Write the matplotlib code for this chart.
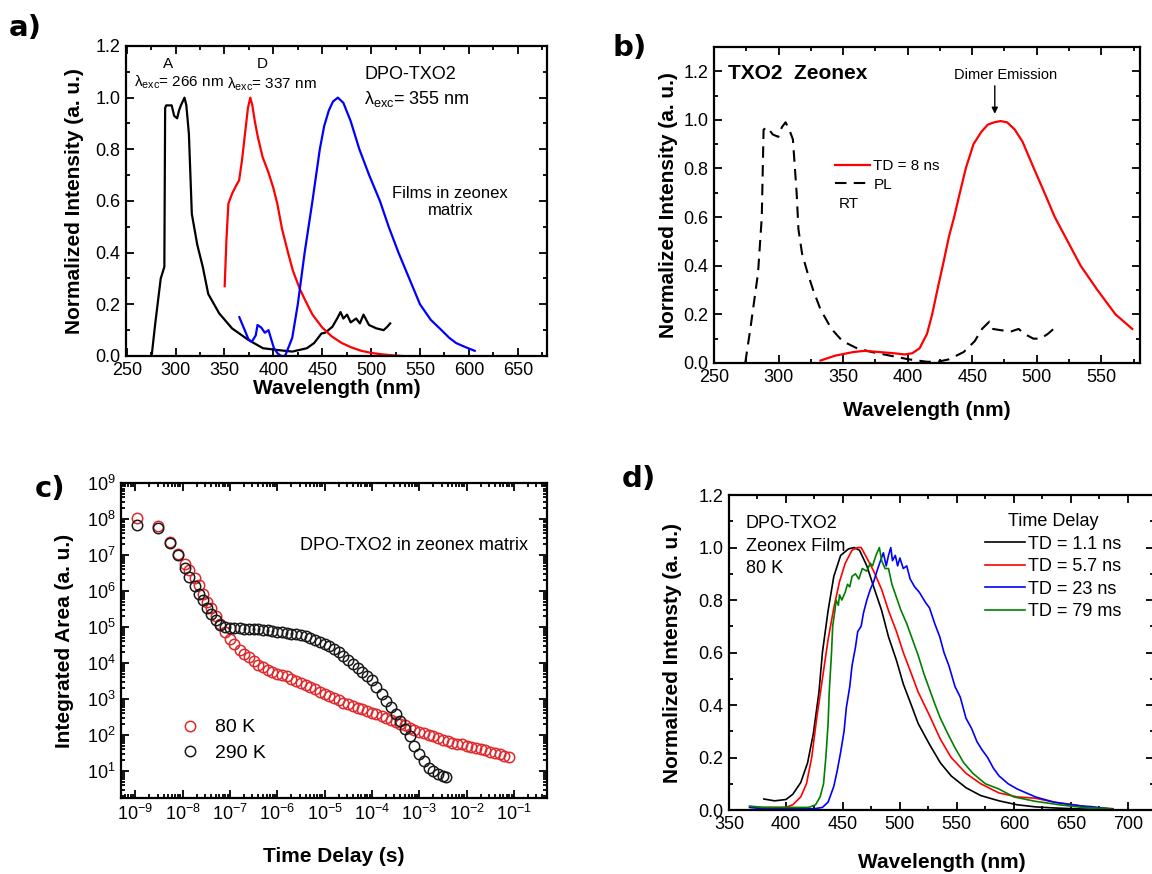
import matplotlib
matplotlib.use("Agg")
import matplotlib.pyplot as plt
from matplotlib.ticker import MultipleLocator, FormatStrFormatter, LogLocator, NullFormatter

plt.rcParams['font.family'] = ['Liberation Sans', 'DejaVu Sans']
plt.rcParams['mathtext.fontset'] = 'custom'
plt.rcParams['mathtext.rm'] = 'Liberation Sans'
plt.rcParams['mathtext.it'] = 'Liberation Sans:italic'
plt.rcParams['mathtext.bf'] = 'Liberation Sans:bold'

# ---- panel a: steady-state spectra ----
a_black_x = [275.5, 279, 284.8, 288.5, 289.3, 290.4, 296, 298.5, 301.6, 303.5, 305.4, 309.1, 311, 313.6,
             316.6, 322.2, 327.8, 333.4, 344.6, 357.7, 374.5, 389.4, 404.4, 419.3, 434.3, 441.7,
             449.2, 453, 460.4, 466, 468.7, 471.6, 475.4, 479.1, 484.7, 488.5, 492.2, 497.8,
             505.3, 512.8, 516.5, 519.5]
a_black_y = [0.0, 0.12, 0.30, 0.345, 0.96, 0.97, 0.97, 0.93, 0.92, 0.95, 0.97, 1.0, 0.97, 0.86,
             0.55, 0.43, 0.345, 0.24, 0.165, 0.107, 0.062, 0.03, 0.023, 0.017, 0.03, 0.05,
             0.087, 0.09, 0.113, 0.15, 0.17, 0.145, 0.16, 0.13, 0.145, 0.126, 0.16, 0.12,
             0.107, 0.10, 0.113, 0.126]
a_red_x = [350.2, 352, 354, 358, 362, 365, 368, 371, 374, 376.4, 378.5, 381, 384, 389, 395, 400,
           404, 409, 415, 420, 427, 432, 440, 450, 460, 470, 480, 490, 500, 510, 520, 532]
a_red_y = [0.27, 0.45, 0.59, 0.63, 0.66, 0.68, 0.76, 0.86, 0.96, 1.0, 0.97, 0.91, 0.85, 0.77, 0.71,
           0.65, 0.59, 0.49, 0.40, 0.33, 0.26, 0.22, 0.16, 0.11, 0.075, 0.05, 0.033, 0.02, 0.012,
           0.007, 0.003, 0.0]
a_blue_x = [365.2, 370.7, 374.5, 378, 382, 383.8, 387.6, 391.3, 395, 397, 400.6, 404.4, 408, 412,
            419.3, 425, 432, 440, 447.5, 452, 456.7, 461, 466, 471.6, 479, 488, 498, 509, 518,
            528, 539, 550, 561, 572, 580, 587, 596, 606]
a_blue_y = [0.15, 0.10, 0.065, 0.055, 0.08, 0.12, 0.11, 0.09, 0.10, 0.075, 0.03, 0.01, 0.0, 0.0,
            0.07, 0.20, 0.40, 0.60, 0.80, 0.89, 0.95, 0.985, 1.0, 0.98, 0.91, 0.80, 0.70, 0.60,
            0.50, 0.40, 0.30, 0.20, 0.14, 0.10, 0.07, 0.05, 0.035, 0.02]

# ---- panel b: TXO2 in zeonex ----
b_pl_x = [274.2, 278.4, 284.1, 287, 288.4, 291.2, 295.5, 299.8, 302.6, 305.4, 308.3, 311.1, 314,
          315.4, 318.2, 322.5, 326.8, 332.5, 341, 349.5, 360.9, 372.3, 386.5, 400.7, 414.9,
          423.4, 432, 443.4, 452, 457.6, 463.3, 466.1, 471.8, 480.3, 486, 490.3, 497.4, 503,
          508.7, 513]
b_pl_y = [0.0, 0.15, 0.37, 0.6, 0.96, 0.97, 0.94, 0.93, 0.97, 0.99, 0.96, 0.92, 0.70, 0.55, 0.45,
          0.37, 0.30, 0.22, 0.14, 0.09, 0.06, 0.045, 0.03, 0.015, 0.005, 0.005, 0.015, 0.045,
          0.09, 0.14, 0.17, 0.14, 0.135, 0.13, 0.14, 0.12, 0.10, 0.10, 0.12, 0.14]
b_td_x = [332.5, 343.8, 358, 366.6, 378, 389.3, 397.9, 403.5, 409.2, 415, 419, 423, 428, 432, 436,
          440, 445, 451, 457, 462, 467, 472, 477, 483, 489, 497, 506, 514, 524, 534, 547, 561,
          574]
b_td_y = [0.01, 0.03, 0.045, 0.05, 0.045, 0.04, 0.035, 0.04, 0.06, 0.12, 0.20, 0.30, 0.42, 0.52,
          0.60, 0.69, 0.80, 0.90, 0.95, 0.98, 0.99, 0.995, 0.99, 0.96, 0.91, 0.81, 0.70, 0.60,
          0.50, 0.40, 0.30, 0.20, 0.14]

# ---- panel c: decay of integrated emission ----
c_t_80k = [1.1e-9, 3.0e-9, 5.5e-9, 8.0e-9, 1.1e-8, 1.4e-8, 1.8e-8, 2.2e-8, 2.7e-8, 3.3e-8, 4.0e-8,
           5.0e-8, 6.3e-8, 7.9e-8, 1.0e-7, 1.25e-7, 1.6e-7, 2.0e-7, 2.5e-7, 3.2e-7, 4.0e-7, 5.0e-7,
           6.3e-7, 7.9e-7, 1.0e-6, 1.25e-6, 1.6e-6, 2.0e-6, 2.5e-6, 3.2e-6, 4.0e-6, 5.0e-6, 6.3e-6,
           7.9e-6, 1.0e-5, 1.25e-5, 1.6e-5, 2.0e-5, 2.5e-5, 3.2e-5, 4.0e-5, 5.0e-5, 6.3e-5, 7.9e-5,
           1.0e-4, 1.25e-4, 1.6e-4, 2.0e-4, 2.5e-4, 3.2e-4, 4.0e-4, 5.0e-4, 6.3e-4, 7.9e-4, 1.0e-3,
           1.25e-3, 1.6e-3, 2.0e-3, 2.5e-3, 3.2e-3, 4.0e-3, 5.0e-3, 6.3e-3, 7.9e-3, 1.0e-2, 1.25e-2,
           1.6e-2, 2.0e-2, 2.5e-2, 3.2e-2, 4.0e-2, 5.0e-2, 6.3e-2, 7.9e-2]
c_i_80k = [1.05e8, 6.3e7, 2.3e7, 1.05e7, 5.8e6, 3.8e6, 2.3e6, 1.5e6, 8.5e5, 5.0e5, 3.3e5, 2.0e5,
           1.2e5, 7.4e4, 4.8e4, 3.4e4, 2.3e4, 1.8e4, 1.45e4, 1.15e4, 9.0e3, 7.6e3, 6.6e3, 5.8e3,
           5.1e3, 4.7e3, 4.3e3, 3.7e3, 3.2e3, 2.75e3, 2.4e3, 2.1e3, 1.85e3, 1.6e3, 1.4e3, 1.2e3,
           1.05e3, 920, 800, 720, 650, 580, 520, 470, 420, 380, 340, 305, 270, 235, 210, 185, 162,
           142, 126, 113, 101, 92, 82, 74, 67, 62, 58, 55, 51, 48, 45, 41, 38, 35, 32, 30, 27, 25]
c_t_290k = [1.1e-9, 3.0e-9, 5.5e-9, 8.0e-9, 1.1e-8, 1.4e-8, 1.8e-8, 2.2e-8, 2.7e-8, 3.3e-8, 4.0e-8,
            5.0e-8, 6.3e-8, 7.9e-8, 1.0e-7, 1.25e-7, 1.6e-7, 2.0e-7, 2.5e-7, 3.2e-7, 4.0e-7, 5.0e-7,
            6.3e-7, 7.9e-7, 1.0e-6, 1.25e-6, 1.6e-6, 2.0e-6, 2.5e-6, 3.2e-6, 4.0e-6, 5.0e-6, 6.3e-6,
            7.9e-6, 1.0e-5, 1.25e-5, 1.6e-5, 2.0e-5, 2.5e-5, 3.2e-5, 4.0e-5, 5.0e-5, 6.3e-5, 7.9e-5,
            1.0e-4, 1.25e-4, 1.6e-4, 2.0e-4, 2.5e-4, 3.2e-4, 4.0e-4, 5.0e-4, 6.3e-4, 7.9e-4, 1.0e-3,
            1.25e-3, 1.6e-3, 2.0e-3, 2.5e-3, 3.2e-3, 3.7e-3]
c_i_290k = [6.8e7, 5.8e7, 2.2e7, 1.0e7, 4.3e6, 2.4e6, 1.35e6, 8.5e5, 5.5e5, 3.4e5, 2.3e5, 1.6e5,
            1.15e5, 1.0e5, 9.3e4, 9.2e4, 9.2e4, 9.1e4, 9.0e4, 8.8e4, 8.6e4, 8.4e4, 8.1e4, 7.8e4,
            7.5e4, 7.2e4, 6.9e4, 6.6e4, 6.3e4, 6.0e4, 5.5e4, 5.1e4, 4.5e4, 3.9e4, 3.3e4, 2.9e4,
            2.5e4, 2.0e4, 1.6e4, 1.25e4, 9.5e3, 7.3e3, 5.6e3, 4.4e3, 3.3e3, 2.2e3, 1.4e3, 900, 600,
            380, 250, 150, 95, 50, 30, 19, 12, 10, 8.5, 7.5, 7.0]

# ---- panel d: time-resolved spectra at 80 K ----
d_td1_x = [380.6, 390, 400, 406, 413, 419, 424, 429, 432, 437, 442, 448, 455, 459.7, 464.5, 471,
           477, 484, 490, 497, 503, 510, 516, 526, 535.5, 545, 558, 571, 587, 603, 619, 635,
           652, 668, 687]
d_td1_y = [0.042, 0.035, 0.04, 0.06, 0.105, 0.18, 0.29, 0.45, 0.60, 0.76, 0.89, 0.97, 0.995, 1.0,
           0.99, 0.93, 0.85, 0.76, 0.66, 0.57, 0.48, 0.40, 0.33, 0.25, 0.18, 0.13, 0.085, 0.055,
           0.035, 0.02, 0.012, 0.008, 0.005, 0.003, 0.0]
d_td6_x = [370, 385, 400, 406, 413, 418, 422.6, 427, 432, 437, 442, 447, 452, 458, 463, 466, 471,
           477, 484, 490, 497, 503, 510, 516, 526, 535.5, 545, 558, 571, 587, 603, 619, 635, 652,
           668, 687]
d_td6_y = [0.01, 0.01, 0.01, 0.02, 0.05, 0.10, 0.20, 0.35, 0.50, 0.65, 0.77, 0.87, 0.94, 0.99, 1.0,
           1.0, 0.96, 0.91, 0.84, 0.76, 0.68, 0.60, 0.52, 0.45, 0.36, 0.27, 0.20, 0.14, 0.10,
           0.065, 0.05, 0.045, 0.03, 0.02, 0.01, 0.005]
d_td23_x = [368, 380, 395, 410, 425, 432, 437, 442, 445, 448, 451, 453, 456, 458, 461, 463, 466,
            468, 471, 474, 477, 480.6, 483, 485.5, 488, 490, 492, 493.5, 496, 498, 500, 503, 506,
            509, 513, 517, 522.6, 526, 530.6, 535, 538.7, 543, 548.4, 553, 558, 563, 567.7, 572,
            577, 582, 587, 595, 603, 611, 619, 627, 635.5, 643, 651.6, 660, 668, 677, 687]
d_td23_y = [0.01, 0.005, 0.005, 0.005, 0.005, 0.01, 0.03, 0.09, 0.15, 0.22, 0.30, 0.39, 0.47, 0.55,
            0.62, 0.68, 0.70, 0.75, 0.80, 0.84, 0.87, 0.92, 0.95, 0.98, 0.93, 0.97, 1.0, 0.95, 0.97,
            0.93, 0.96, 0.92, 0.93, 0.88, 0.85, 0.83, 0.79, 0.77, 0.71, 0.66, 0.60, 0.55, 0.47,
            0.43, 0.35, 0.31, 0.26, 0.23, 0.20, 0.16, 0.13, 0.10, 0.08, 0.065, 0.05, 0.04, 0.03,
            0.025, 0.02, 0.015, 0.013, 0.008, 0.003]
d_td79_x = [368, 380, 395, 410, 420, 426, 430, 433, 435, 437, 438, 440, 441, 443, 444, 446, 447,
            449, 452, 454, 456, 458, 461, 464, 467, 471, 474, 476, 479, 482, 484, 487, 490, 493,
            497, 501, 506, 511, 516, 521, 526, 531, 535.5, 541, 548, 556, 564, 575, 587, 600, 619,
            640, 660, 685]
d_td79_y = [0.015, 0.01, 0.01, 0.01, 0.01, 0.02, 0.05, 0.10, 0.20, 0.33, 0.45, 0.60, 0.70, 0.76,
            0.80, 0.78, 0.82, 0.80, 0.83, 0.86, 0.85, 0.89, 0.90, 0.88, 0.92, 0.91, 0.94, 0.93,
            0.97, 1.0, 0.95, 0.92, 0.92, 0.86, 0.81, 0.76, 0.71, 0.65, 0.59, 0.52, 0.46, 0.40,
            0.35, 0.30, 0.24, 0.18, 0.14, 0.10, 0.08, 0.05, 0.033, 0.02, 0.01, 0.005]


def style(ax):
    ax.tick_params(which='both', direction='in', top=True, right=True, labelsize=13, width=1.3, pad=4)
    ax.tick_params(which='major', length=6)
    ax.tick_params(which='minor', length=3)
    for s in ax.spines.values():
        s.set_linewidth(1.6)


def lin_ticks(ax):
    ax.xaxis.set_major_locator(MultipleLocator(50))
    ax.xaxis.set_minor_locator(MultipleLocator(25))
    ax.yaxis.set_major_locator(MultipleLocator(0.2))
    ax.yaxis.set_minor_locator(MultipleLocator(0.1))
    ax.yaxis.set_major_formatter(FormatStrFormatter('%.1f'))


fig = plt.figure(figsize=(11.52, 8.74), dpi=100)

# panel positions in figure fractions (left, bottom, width, height)
ax_a = fig.add_axes([0.1094, 0.5927, 0.3655, 0.3547])
ax_b = fig.add_axes([0.6198, 0.5847, 0.3698, 0.3616])
ax_c = fig.add_axes([0.1050, 0.0870, 0.3698, 0.3604])
ax_d = fig.add_axes([0.6328, 0.0732, 0.3689, 0.3604])

# ---- a ----
ax_a.plot(a_black_x, a_black_y, color='black', lw=1.6)
ax_a.plot(a_red_x, a_red_y, color='#ff0000', lw=1.6)
ax_a.plot(a_blue_x, a_blue_y, color='#0000ff', lw=1.6)
ax_a.set_xlim(249.3, 680)
ax_a.set_ylim(0, 1.2)
lin_ticks(ax_a)
style(ax_a)
ax_a.set_xlabel('Wavelength (nm)', fontsize=15, fontweight='bold', labelpad=0)
ax_a.set_ylabel('Normalized Intensity (a. u.)', fontsize=15, fontweight='bold', labelpad=8)
ax_a.text(292, 1.13, 'A', fontsize=11, ha='center', va='center')
ax_a.text(257, 1.06, r'λ$_{\rm exc}$= 266 nm', fontsize=11, ha='left', va='center')
ax_a.text(389, 1.13, 'D', fontsize=11, ha='center', va='center')
ax_a.text(353, 1.05, r'λ$_{\rm exc}$= 337 nm', fontsize=11, ha='left', va='center')
ax_a.text(493, 1.09, 'DPO-TXO2', fontsize=13, ha='left', va='center')
ax_a.text(493, 0.995, r'λ$_{\rm exc}$= 355 nm', fontsize=13, ha='left', va='center')
ax_a.text(581, 0.595, 'Films in zeonex\nmatrix', fontsize=12, ha='center', va='center',
          linespacing=1.2)

# ---- b ----
ax_b.plot(b_pl_x, b_pl_y, color='black', lw=1.5, ls=(0, (5.5, 3.5)), label='PL')
ax_b.plot(b_td_x, b_td_y, color='#ff0000', lw=1.6, label='TD = 8 ns')
ax_b.set_xlim(250, 580)
ax_b.set_ylim(0, 1.3)
lin_ticks(ax_b)
style(ax_b)
ax_b.set_xlabel('Wavelength (nm)', fontsize=15, fontweight='bold', labelpad=11)
ax_b.set_ylabel('Normalized Intensity (a. u.)', fontsize=15, fontweight='bold', labelpad=4)
ax_b.text(261, 1.19, 'TXO2  Zeonex', fontsize=15, fontweight='bold', ha='left', va='center')
ax_b.text(476, 1.185, 'Dimer Emission', fontsize=10.5, ha='center', va='center')
ax_b.annotate('', xy=(467.5, 1.025), xytext=(467.5, 1.14),
              arrowprops=dict(arrowstyle='-|>', color='black', lw=1, mutation_scale=9,
                              shrinkA=0, shrinkB=0))
hb = ax_b.get_legend_handles_labels()
ax_b.legend([hb[0][1], hb[0][0]], [hb[1][1], hb[1][0]], loc='upper left',
            bbox_to_anchor=(0.27, 0.665), frameon=False, fontsize=11,
            handlelength=2.3, handletextpad=0.2, labelspacing=0.3, borderaxespad=0)
ax_b.text(347, 0.655, 'RT', fontsize=11, ha='left', va='center')

# ---- c ----
ax_c.plot(c_t_80k, c_i_80k, 'o', mfc='none', mec='#e0282c', ms=7.5, mew=1.1, label='80 K')
ax_c.plot(c_t_290k, c_i_290k, 'o', mfc='none', mec='#1a1a1a', ms=7.5, mew=1.1, label='290 K')
ax_c.set_xscale('log')
ax_c.set_yscale('log')
ax_c.set_xlim(5e-10, 0.5)
ax_c.set_ylim(1.8, 1e9)
ax_c.xaxis.set_major_locator(LogLocator(base=10, numticks=20))
ax_c.xaxis.set_minor_locator(LogLocator(base=10, subs=range(2, 10), numticks=20))
ax_c.xaxis.set_minor_formatter(NullFormatter())
ax_c.yaxis.set_major_locator(LogLocator(base=10, numticks=20))
ax_c.yaxis.set_minor_locator(LogLocator(base=10, subs=range(2, 10), numticks=20))
ax_c.yaxis.set_minor_formatter(NullFormatter())
style(ax_c)
ax_c.set_xlabel('Time Delay (s)', fontsize=15, fontweight='bold', labelpad=17)
ax_c.set_ylabel('Integrated Area (a. u.)', fontsize=15, fontweight='bold', labelpad=9)
ax_c.text(0.955, 0.80, 'DPO-TXO2 in zeonex matrix', transform=ax_c.transAxes, fontsize=13,
          ha='right', va='center')
ax_c.legend(loc='lower left', bbox_to_anchor=(0.12, 0.09), frameon=False, fontsize=14,
            handlelength=1.0, handletextpad=0.8, labelspacing=0.4, borderaxespad=0)

# ---- d ----
ax_d.plot(d_td1_x, d_td1_y, color='black', lw=1.2, label='TD = 1.1 ns')
ax_d.plot(d_td6_x, d_td6_y, color='#ff0000', lw=1.2, label='TD = 5.7 ns')
ax_d.plot(d_td23_x, d_td23_y, color='#0000ff', lw=1.2, label='TD = 23 ns')
ax_d.plot(d_td79_x, d_td79_y, color='#008000', lw=1.2, label='TD = 79 ms')
ax_d.set_xlim(350, 723)
ax_d.set_ylim(0, 1.2)
lin_ticks(ax_d)
style(ax_d)
ax_d.set_xlabel('Wavelength (nm)', fontsize=15, fontweight='bold', labelpad=15)
ax_d.set_ylabel('Normalized Intensty (a. u.)', fontsize=15, fontweight='bold', labelpad=12)
ax_d.text(364.5, 1.125, 'DPO-TXO2\nZeonex Film\n80 K', fontsize=13, ha='left', va='top',
          linespacing=1.45)
ax_d.legend(title='Time Delay', loc='upper left', bbox_to_anchor=(0.585, 0.965), frameon=False,
            fontsize=13, title_fontsize=13, handlelength=2.2, handletextpad=0.2,
            labelspacing=0.3, borderaxespad=0)

# panel letters
for lab, x, y in [('a)', 0.008, 0.968), ('b)', 0.532, 0.945), ('c)', 0.030, 0.440), ('d)', 0.540, 0.452)]:
    fig.text(x, y, lab, fontsize=21, fontweight='bold', family='DejaVu Sans', ha='left', va='center')

fig.savefig('out.png', dpi=100)
